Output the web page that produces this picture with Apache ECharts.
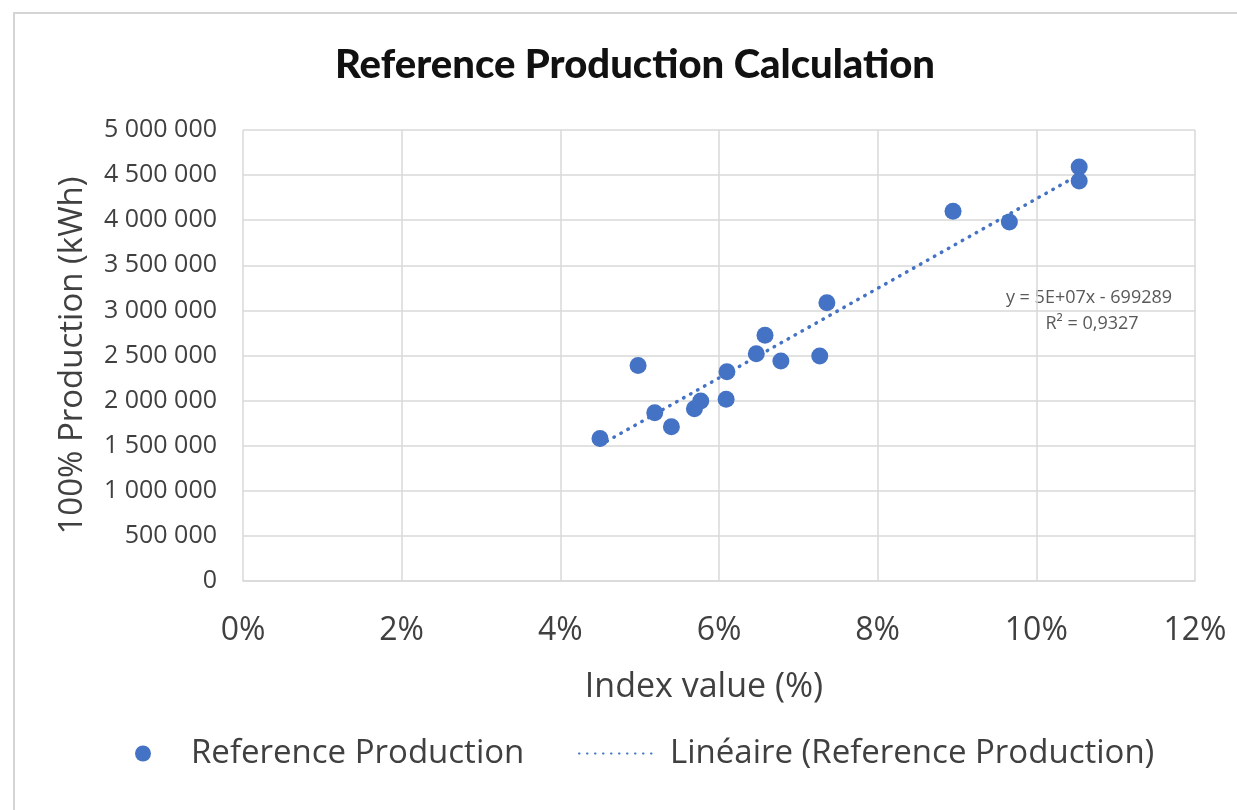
<!DOCTYPE html>
<html>
<head>
<meta charset="utf-8">
<script src="https://cdn.jsdelivr.net/npm/echarts@6/dist/echarts.min.js"></script>
<style>
  html, body { margin: 0; padding: 0; background: #ffffff; }
  #chart { width: 1237px; height: 810px; }
</style>
</head>
<body>
<div id="chart"></div>
<script>
// ---- data ----
const titleText = 'Reference Production Calculation';
const seriesName = 'Reference Production';
const trendName = 'Linéaire (Reference Production)';
const xAxisName = 'Index value (%)';
const yAxisName = '100% Production (kWh)';
const equationLines = ['y = 5E+07x - 699289', 'R² = 0,9327'];

// index value in percent
const indexValues = [4.50, 4.98, 5.19, 5.40, 5.69, 5.77, 6.10, 6.09, 6.47, 6.58, 6.78, 7.27, 7.36, 8.95, 9.66, 10.54, 10.54];
// production kWh
const productionValues = [1580000, 2390000, 1865000, 1710000, 1910000, 1995000, 2320000, 2015000, 2520000, 2725000, 2440000, 2495000, 3085000, 4100000, 3980000, 4590000, 4435000];

const xTicks = { min: 0, max: 12, interval: 2 };
const yTicks = { min: 0, max: 5000000, interval: 500000 };

// ---- derived ----
const points = indexValues.map((x, i) => [x, productionValues[i]]);
// least-squares linear trendline (as Excel's "Linéaire")
const n = points.length;
const mx = indexValues.reduce((a, b) => a + b, 0) / n;
const my = productionValues.reduce((a, b) => a + b, 0) / n;
let sxy = 0, sxx = 0;
points.forEach(([x, y]) => { sxy += (x - mx) * (y - my); sxx += (x - mx) * (x - mx); });
const slope = sxy / sxx;
const intercept = my - slope * mx;
const xMin = Math.min(...indexValues), xMax = Math.max(...indexValues);
const trendPoints = [[xMin, intercept + slope * xMin], [xMax, intercept + slope * xMax]];

const fmtSpace = v => String(Math.round(v)).replace(/\B(?=(\d{3})+(?!\d))/g, ' ');

const blue = '#4472C4';
const textColor = '#404040';
const gridColor = '#d9d9d9';
const FONT = '"Open Sans", Lato, sans-serif';
const TITLE_FONT = 'Lato, "Open Sans", sans-serif';

const chart = echarts.init(document.getElementById('chart'));
chart.setOption({
  backgroundColor: '#ffffff',
  animation: false,
  title: {
    text: titleText,
    left: 630,
    textAlign: 'center',
    top: 40,
    textStyle: { fontFamily: TITLE_FONT, fontSize: 40, fontWeight: 900, color: '#111111' }
  },
  grid: { left: 243, right: 42, top: 130, bottom: 229, containLabel: false },
  xAxis: {
    type: 'value',
    min: xTicks.min, max: xTicks.max, interval: xTicks.interval,
    name: xAxisName,
    nameLocation: 'middle',
    nameGap: 89,
    nameTextStyle: { fontFamily: FONT, fontSize: 34, color: textColor, padding: [0, 30, 0, 0] },
    axisLine: { show: true, lineStyle: { color: gridColor, width: 1.5 } },
    axisTick: { show: false },
    axisLabel: { formatter: '{value}%', fontFamily: FONT, fontSize: 32, color: textColor, margin: 34 },
    splitLine: { show: true, lineStyle: { color: gridColor, width: 1.5 } }
  },
  yAxis: {
    type: 'value',
    min: yTicks.min, max: yTicks.max, interval: yTicks.interval,
    name: yAxisName,
    nameLocation: 'middle',
    nameRotate: 90,
    nameGap: 154,
    nameTextStyle: { fontFamily: FONT, fontSize: 33, color: textColor },
    axisLine: { show: false },
    axisTick: { show: false },
    axisLabel: { formatter: fmtSpace, fontFamily: FONT, fontSize: 25, color: textColor, margin: 26 },
    splitLine: { show: true, lineStyle: { color: gridColor, width: 1.5 } }
  },
  legend: [
    {
      data: [{ name: seriesName, icon: 'circle' }],
      left: 130, top: 732,
      itemWidth: 16, itemHeight: 16,
      textStyle: { fontFamily: FONT, fontSize: 33, color: textColor, padding: [0, 0, 0, 35] }
    },
    {
      data: [{ name: trendName }],
      left: 573, top: 732,
      itemWidth: 80, itemHeight: 16,
      itemStyle: { color: 'rgba(0,0,0,0)', opacity: 0, borderWidth: 0 },
      textStyle: { fontFamily: FONT, fontSize: 33, color: textColor, padding: [0, 0, 0, 6] }
    }
  ],
  graphic: [
    {
      type: 'rect', silent: true, z: -10,
      shape: { x: 14, y: 13, width: 1400, height: 1000 },
      style: { fill: null, stroke: '#d4d4d4', lineWidth: 2 }
    },
    {
      type: 'text', silent: true,
      x: 1089, y: 298,
      style: { text: equationLines[0], fill: '#595959', font: '18px ' + FONT, textAlign: 'center', textVerticalAlign: 'middle' }
    },
    {
      type: 'text', silent: true,
      x: 1092, y: 324,
      style: { text: equationLines[1], fill: '#595959', font: '18px ' + FONT, textAlign: 'center', textVerticalAlign: 'middle' }
    }
  ],
  series: [
    {
      name: seriesName,
      type: 'scatter',
      data: points,
      symbol: 'circle',
      symbolSize: 17,
      itemStyle: { color: blue, opacity: 1 },
      z: 3
    },
    {
      name: trendName,
      type: 'line',
      data: trendPoints,
      symbol: 'none',
      showSymbol: false,
      silent: true,
      lineStyle: { color: blue, width: 3.5, type: [0.5, 7.5], cap: 'round' },
      itemStyle: { color: blue },
      z: 2
    }
  ]
});
</script>
</body>
</html>
